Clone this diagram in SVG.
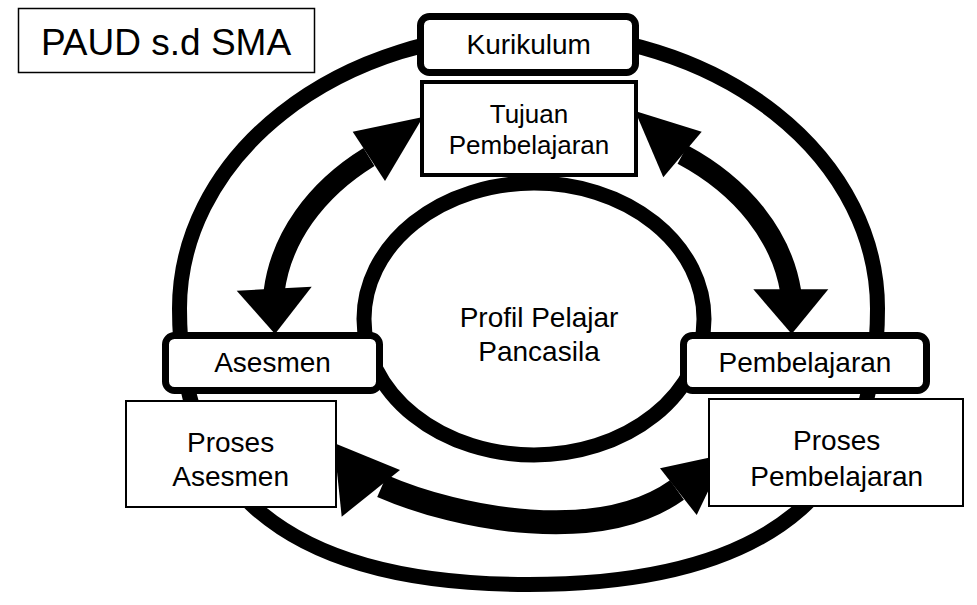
<svg xmlns="http://www.w3.org/2000/svg" width="977" height="605" viewBox="0 0 977 605">
  <style>
    .ring { fill: none; stroke: #000; stroke-width: 15; }
    .shaft { fill: none; stroke: #000; }
    .head { fill: #000; stroke: none; }
    .box-thick { fill: #fff; stroke: #000; stroke-width: 7; }
    .box-mid { fill: #fff; stroke: #000; stroke-width: 4; }
    .box-thin { fill: #fff; stroke: #000; stroke-width: 2; }
    text { font-family: "Liberation Sans", Arial, sans-serif; fill: #000; text-anchor: middle; }
    .t28 { font-size: 28px; }
    .t26 { font-size: 26px; }
    .t37 { font-size: 37px; }
  </style>

  <!-- outer ring: curriculum cycle -->
  <g id="outer-ring">
    <path class="ring" d="M 179.5,308.5 A 349 276 0 0 1 877.5,308.5 C 877.5,474 790,584.5 528.5,584.5 C 267,584.5 179.5,474 179.5,308.5 Z"/>
  </g>

  <!-- connectors: thick curved double-headed arrows -->
  <g id="connectors">
    <!-- Asesmen <-> Tujuan Pembelajaran -->
    <g id="arrow-left">
      <path class="shaft" stroke-width="21" d="M 274,292 A 255 197 0 0 1 369,157"/>
      <polygon class="head" points="423,117 352.7,131.7 385,181"/>
      <polygon class="head" points="275,334 236.7,290.7 311.7,286.7"/>
    </g>
    <!-- Tujuan Pembelajaran <-> Pembelajaran -->
    <g id="arrow-right">
      <path class="shaft" stroke-width="21" d="M 682.5,154.5 A 259 197 0 0 1 790.8,292"/>
      <polygon class="head" points="635,111 701.7,131.7 663.3,177.3"/>
      <polygon class="head" points="791.7,334 753.3,289.3 828.3,289.3"/>
    </g>
    <!-- Proses Asesmen <-> Proses Pembelajaran -->
    <g id="arrow-bottom">
      <path class="shaft" stroke-width="24" d="M 382,486 C 460,520 600,545 677,490"/>
      <polygon class="head" points="334,443 400,470 341.7,516.7"/>
      <polygon class="head" points="726,454 660,468.3 696.7,515"/>
    </g>
  </g>

  <!-- centre: Profil Pelajar Pancasila -->
  <g id="profil">
    <ellipse class="ring" cx="534" cy="319" rx="170" ry="136"/>
    <text class="t28" x="539" y="326.7">Profil Pelajar</text>
    <text class="t28" x="539" y="360.7">Pancasila</text>
  </g>

  <g id="paud-sma">
    <rect x="18.5" y="8.5" width="296" height="64" fill="#fff" stroke="#000" stroke-width="1.5"/>
    <text class="t37" x="166" y="55">PAUD s.d SMA</text>
  </g>

  <g id="kurikulum">
    <rect class="box-thick" x="420.5" y="16.5" width="215" height="56" rx="9"/>
    <text class="t28" x="528.7" y="54">Kurikulum</text>
  </g>

  <g id="tujuan">
    <rect class="box-mid" x="422" y="82" width="214" height="93"/>
    <text class="t26" x="529" y="122.7">Tujuan</text>
    <text class="t26" x="529" y="154">Pembelajaran</text>
  </g>

  <g id="asesmen">
    <rect class="box-thick" x="165.5" y="335.5" width="214" height="55" rx="9"/>
    <text class="t28" x="272.5" y="371.7">Asesmen</text>
  </g>

  <g id="pembelajaran">
    <rect class="box-thick" x="683.5" y="335.5" width="243" height="55" rx="9"/>
    <text class="t28" x="805" y="371.7">Pembelajaran</text>
  </g>

  <g id="proses-asesmen">
    <rect class="box-thin" x="126" y="401" width="210" height="106"/>
    <text class="t28" x="230.6" y="452.3">Proses</text>
    <text class="t28" x="230.6" y="485.7">Asesmen</text>
  </g>

  <g id="proses-pembelajaran">
    <rect class="box-thin" x="709" y="399" width="254" height="107"/>
    <text class="t28" x="836.7" y="450">Proses</text>
    <text class="t28" x="836.7" y="485.5">Pembelajaran</text>
  </g>
</svg>
